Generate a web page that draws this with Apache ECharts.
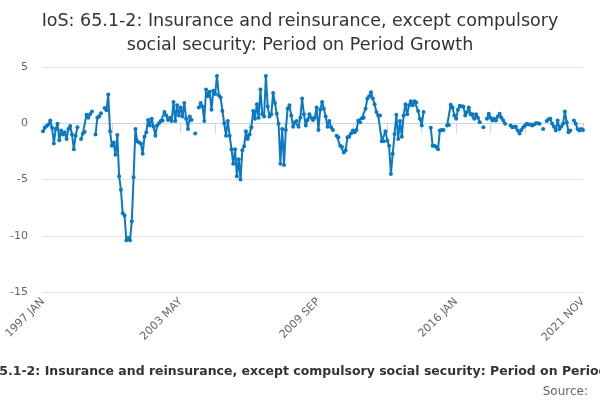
<!DOCTYPE html>
<html>
<head>
<meta charset="utf-8">
<script src="https://cdn.jsdelivr.net/npm/echarts@6/dist/echarts.min.js"></script>
<style>
  html, body { margin: 0; padding: 0; background: #fff; }
  #chart { width: 600px; height: 400px; }
</style>
</head>
<body>
<div id="chart"></div>
<script>
// monthly periods, 1997 JAN .. 2021 NOV
const startYear = 1997
const monthNames = ['JAN', 'FEB', 'MAR', 'APR', 'MAY', 'JUN', 'JUL', 'AUG', 'SEP', 'OCT', 'NOV', 'DEC']
const periodCount = 299

// period on period growth (%), null = no value published
const growth1997to2001 = [
  -0.7, -0.4, -0.25, -0.1, 0.25, -0.4, -1.8, -0.5, -0.05, -1.5, -0.65, -1.0,
  -0.8, -1.4, -0.5, -0.25, -1.0, -2.3, -1.1, -0.35, null, -1.4, -0.9, -0.75,
  0.75, 0.5, 0.8, 1.05, null, -1.0, 0.5, 0.6, 0.9, null, 1.35, 1.15,
  2.55, -0.7, -2.0, -1.7, -2.8, -1.05, -4.7, -5.9, -8.0, -8.2, -10.4, -10.2,
  -10.4, -8.7, -4.8, -0.5, -1.6, -1.7, -1.8, -2.7, -1.2, -0.8, 0.3, -0.2
]
const growth2002to2006 = [
  0.4, -0.3, -1.1, -0.2, 0.0, 0.2, 0.25, 1.0, 0.7, 0.3, 0.5, 0.2,
  1.9, 0.2, 1.6, 0.7, 1.4, 0.6, 1.8, 0.4, -0.5, 0.6, 0.3, null,
  -0.9, null, 1.4, 1.8, 1.5, 0.2, 3.0, 2.4, 2.8, 1.2, 2.9, 2.6,
  4.2, 2.5, 2.3, 1.1, 0.0, -1.1, 0.2, -1.1, -2.3, -3.6, -2.3, -4.7,
  -3.2, -5.0, -2.4, -2.05, -0.7, -1.4, -1.0, -0.35, 1.1, 0.4, 1.7, 0.5
]
const growth2007to2011 = [
  3.0, 0.8, 0.6, 4.2, 1.5, 0.6, 0.8, 2.7, 1.8, 0.85, -0.05, -3.6,
  -0.5, -3.7, -0.6, 1.3, 1.6, 0.7, -0.3, 0.1, 0.2, -0.3, 0.5, 2.2,
  0.8, -0.2, 0.3, 0.8, 0.5, 0.3, 0.5, 1.4, -0.6, 1.2, 1.9, 1.3,
  0.6, -0.3, 0.2, -0.35, -0.6, null, -1.1, -1.25, -2.0, -2.1, -2.6, -2.4,
  -1.25, -1.2, -0.9, -0.65, -0.8, -0.6, 0.25, 0.1, 0.45, 0.5, 1.3, 2.2
]
const growth2012to2016 = [
  2.4, 2.75, 2.2, 1.7, 1.0, 0.7, 0.7, -1.6, -1.6, -0.7, -1.55, -2.0,
  -4.5, -2.7, -0.95, 0.75, -1.4, 0.2, -1.2, 0.7, 1.7, 0.8, 1.6, 1.95,
  1.6, 1.95, 1.85, 1.1, 0.4, -0.2, 1.0, null, null, null, -0.4, -2.0,
  -2.0, -2.1, -2.3, -0.65, -0.6, -0.6, null, -0.2, -0.15, 1.65, 1.4, 0.7,
  0.4, 1.2, 1.55, 1.5, 1.5, 0.7, 1.0, 1.4, 0.8, 0.8, 0.4, 0.8
]
const growth2017to2021 = [
  0.5, 0.1, null, -0.35, null, 0.4, 0.85, 0.5, 0.25, 0.4, 0.25, 0.6,
  0.85, 0.5, 0.25, -0.05, null, null, -0.2, -0.35, -0.3, -0.3, -0.65, -0.9,
  -0.6, -0.35, -0.2, -0.05, -0.1, -0.1, -0.2, -0.1, 0.0, 0.0, -0.05, null,
  -0.5, null, 0.2, 0.35, 0.4, -0.05, -0.3, -0.65, 0.25, -0.5, -0.3, -0.05,
  1.05, 0.1, -0.8, -0.65, null, 0.25, -0.05, -0.5, -0.65, -0.5, -0.6
]

const yTicks = [-15, -10, -5, 0, 5]

const titleLines = ['IoS: 65.1-2: Insurance and reinsurance, except compulsory', 'social security: Period on Period Growth']
const captionText = 'IoS: 65.1-2: Insurance and reinsurance, except compulsory social security: Period on Period Growth'
const sourceText = 'Source:'

const periods = []
for (let i = 0; i < periodCount; i++) {
  periods.push((startYear + Math.floor(i / 12)) + ' ' + monthNames[i % 12])
}
const growth = [].concat(growth1997to2001, growth2002to2006, growth2007to2011,
  growth2012to2016, growth2017to2021)

const font = 'DejaVu Sans'
const chart = echarts.init(document.getElementById('chart'), null, { renderer: 'canvas' })

chart.setOption({
  animation: false,
  graphic: [{
    type: 'text',
    x: 300,
    y: 21,
    style: {
      text: titleLines[0], align: 'center', verticalAlign: 'middle',
      font: 'normal 17.5px "DejaVu Sans"', fill: '#333333'
    }
  }, {
    type: 'text',
    x: 300,
    y: 45,
    style: {
      text: titleLines[1], align: 'center', verticalAlign: 'middle',
      font: 'normal 17.5px "DejaVu Sans"', fill: '#333333'
    }
  }],
  title: [{
    text: captionText,
    left: -46,
    top: 360,
    textStyle: { fontFamily: font, fontSize: 12.5, fontWeight: 'bold', color: '#333333' }
  }, {
    text: sourceText,
    right: 7,
    top: 381,
    textStyle: { fontFamily: font, fontSize: 12, fontWeight: 'normal', color: '#666666' }
  }],
  grid: { left: 43, right: 17, top: 67, bottom: 108, containLabel: false },
  xAxis: {
    type: 'category',
    data: periods,
    boundaryGap: false,
    axisLine: { lineStyle: { color: '#ccd6eb', width: 1 } },
    axisTick: { interval: 18, length: 10, lineStyle: { color: '#ccd6eb' } },
    axisLabel: {
      interval: 75,
      showMaxLabel: true,
      rotate: 45,
      margin: 8,
      color: '#666666',
      fontFamily: font,
      fontSize: 11
    },
    splitLine: { show: false }
  },
  yAxis: {
    type: 'value',
    min: yTicks[0],
    max: yTicks[yTicks.length - 1],
    interval: 5,
    axisLine: { show: false },
    axisTick: { show: false },
    axisLabel: { color: '#666666', fontFamily: font, fontSize: 11, margin: 15 },
    splitLine: { lineStyle: { color: '#e6e6e6', width: 1 } }
  },
  series: [{
    type: 'line',
    data: growth,
    connectNulls: false,
    symbol: 'circle',
    symbolSize: 4,
    showAllSymbol: true,
    lineStyle: { color: '#0a78c2', width: 2 },
    itemStyle: { color: '#0a78c2' }
  }]
})
</script>
</body>
</html>
